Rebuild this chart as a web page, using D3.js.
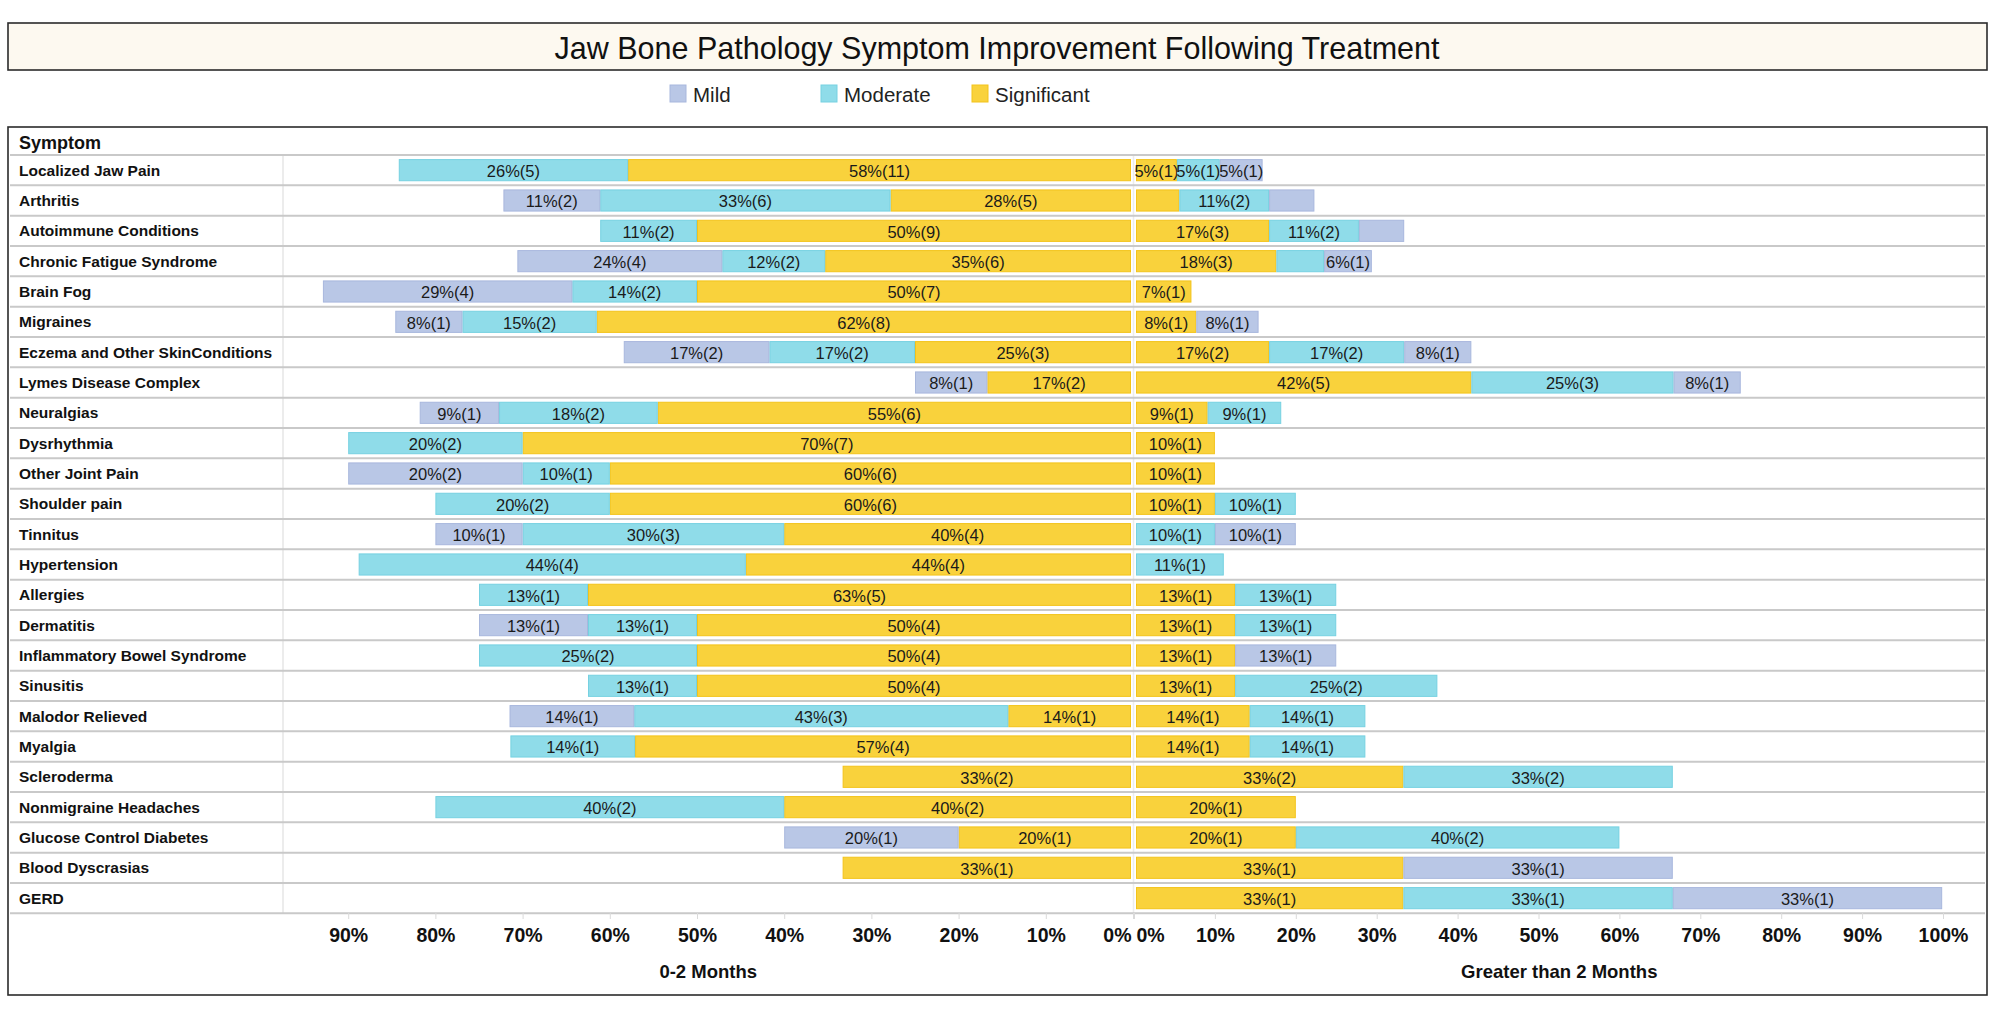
<!DOCTYPE html>
<html>
<head>
<meta charset="utf-8">
<script src="https://cdn.jsdelivr.net/npm/d3@7"></script>
<style>
  html, body { margin: 0; padding: 0; background: #ffffff; }
  svg { display: block; font-family: "Liberation Sans", Arial, sans-serif; }
</style>
</head>
<body>
<svg id="chart" width="2000" height="1014"></svg>
<script>
// ---------------- DATA ----------------
const title = "Jaw Bone Pathology Symptom Improvement Following Treatment";
const severities = ["Mild", "Moderate", "Significant"];
const stackOrder = ["Significant", "Moderate", "Mild"];
const periods = ["0-2 Months", "Greater than 2 Months"];
const rowHeader = "Symptom";

const categories = [
  "Localized Jaw Pain", "Arthritis", "Autoimmune Conditions", "Chronic Fatigue Syndrome",
  "Brain Fog", "Migraines", "Eczema and Other SkinConditions", "Lymes Disease Complex",
  "Neuralgias", "Dysrhythmia", "Other Joint Pain", "Shoulder pain", "Tinnitus",
  "Hypertension", "Allergies", "Dermatitis", "Inflammatory Bowel Syndrome", "Sinusitis",
  "Malodor Relieved", "Myalgia", "Scleroderma", "Nonmigraine Headaches",
  "Glucose Control Diabetes", "Blood Dyscrasias", "GERD"
];

// 0-2 Months (percent of patients, and patient counts)
const earlyMild        = [0, 11.1, 0, 23.5, 28.6, 7.7, 16.7, 8.3, 9.1, 0, 20, 0, 10, 0, 0, 12.5, 0, 0, 14.3, 0, 0, 0, 20, 0, 0];
const earlyMildN       = [0, 2, 0, 4, 4, 1, 2, 1, 1, 0, 2, 0, 1, 0, 0, 1, 0, 0, 1, 0, 0, 0, 1, 0, 0];
const earlyModerate    = [26.3, 33.3, 11.1, 11.8, 14.3, 15.4, 16.7, 0, 18.2, 20, 10, 20, 30, 44.4, 12.5, 12.5, 25, 12.5, 42.9, 14.3, 0, 40, 0, 0, 0];
const earlyModerateN   = [5, 6, 2, 2, 2, 2, 2, 0, 2, 2, 1, 2, 3, 4, 1, 1, 2, 1, 3, 1, 0, 2, 0, 0, 0];
const earlySignificant = [57.9, 27.8, 50, 35.3, 50, 61.5, 25, 16.7, 54.5, 70, 60, 60, 40, 44.4, 62.5, 50, 50, 50, 14.3, 57.1, 33.3, 40, 20, 33.3, 0];
const earlySignificantN= [11, 5, 9, 6, 7, 8, 3, 2, 6, 7, 6, 6, 4, 4, 5, 4, 4, 4, 1, 4, 2, 2, 1, 1, 0];

// Greater than 2 Months
const lateMild         = [5.3, 5.6, 5.6, 5.9, 0, 7.7, 8.3, 8.3, 0, 0, 0, 0, 10, 0, 0, 0, 12.5, 0, 0, 0, 0, 0, 0, 33.3, 33.3];
const lateMildN        = [1, 1, 1, 1, 0, 1, 1, 1, 0, 0, 0, 0, 1, 0, 0, 0, 1, 0, 0, 0, 0, 0, 0, 1, 1];
const lateModerate     = [5.3, 11.1, 11.1, 5.9, 0, 0, 16.7, 25, 9.1, 0, 0, 10, 10, 11.1, 12.5, 12.5, 0, 25, 14.3, 14.3, 33.3, 0, 40, 0, 33.3];
const lateModerateN    = [1, 2, 2, 1, 0, 0, 2, 3, 1, 0, 0, 1, 1, 1, 1, 1, 0, 2, 1, 1, 2, 0, 2, 0, 1];
const lateSignificant  = [5.3, 5.6, 16.7, 17.6, 7.1, 7.7, 16.7, 41.7, 9.1, 10, 10, 10, 0, 0, 12.5, 12.5, 12.5, 12.5, 14.3, 14.3, 33.3, 20, 20, 33.3, 33.3];
const lateSignificantN = [1, 1, 3, 3, 1, 1, 2, 5, 1, 1, 1, 1, 0, 0, 1, 1, 1, 1, 1, 1, 2, 1, 1, 1, 1];

// labels Tableau suppressed in the original
const hiddenLabels = [
  "late|Significant|Arthritis", "late|Mild|Arthritis",
  "late|Mild|Autoimmune Conditions", "late|Moderate|Chronic Fatigue Syndrome"
];

const tickValuesLeft  = [0, 0.1, 0.2, 0.3, 0.4, 0.5, 0.6, 0.7, 0.8, 0.9];
const tickValuesRight = [0, 0.1, 0.2, 0.3, 0.4, 0.5, 0.6, 0.7, 0.8, 0.9, 1.0];

// ---------------- STYLE ----------------
const fills   = { Mild: "#b9c7e6", Moderate: "#8fdce9", Significant: "#f9d23c" };
const strokes = { Mild: "#a8b7dd", Moderate: "#76d1e1", Significant: "#f3c31a" };

// ---------------- BUILD TABLES ----------------
function buildTable(mild, mod, sig, mildN, modN, sigN) {
  return categories.map((c, i) => ({
    symptom: c,
    Mild: mild[i] / 100, Moderate: mod[i] / 100, Significant: sig[i] / 100,
    n: { Mild: mildN[i], Moderate: modN[i], Significant: sigN[i] }
  }));
}
const earlyTable = buildTable(earlyMild, earlyModerate, earlySignificant, earlyMildN, earlyModerateN, earlySignificantN);
const lateTable  = buildTable(lateMild, lateModerate, lateSignificant, lateMildN, lateModerateN, lateSignificantN);

const stack = d3.stack().keys(stackOrder);
const earlyStack = stack(earlyTable);
const lateStack  = stack(lateTable);

// ---------------- LAYOUT ----------------
const svg = d3.select("#chart");

// title box
svg.append("rect").attr("x", 8).attr("y", 23).attr("width", 1979).attr("height", 47)
  .attr("fill", "#fdf9f0").attr("stroke", "#2b2b2b").attr("stroke-width", 1.6);
svg.append("text").attr("x", 997).attr("y", 48).attr("text-anchor", "middle")
  .attr("dominant-baseline", "central").attr("font-size", 30.5).attr("fill", "#111")
  .text(title);

// legend
const legend = svg.append("g");
const legendX = d3.scalePoint().domain(severities).range([670, 972]);
severities.forEach(s => {
  const g = legend.append("g").attr("transform", `translate(${legendX(s)},85)`);
  g.append("rect").attr("width", 16).attr("height", 17)
    .attr("fill", fills[s]).attr("stroke", strokes[s]).attr("stroke-width", 1);
  g.append("text").attr("x", 23).attr("y", 9).attr("dominant-baseline", "central")
    .attr("font-size", 20.5).attr("fill", "#222").text(s);
});

// main box
svg.append("rect").attr("x", 8).attr("y", 127).attr("width", 1979).attr("height", 868)
  .attr("fill", "#fff").attr("stroke", "#2b2b2b").attr("stroke-width", 1.6);

svg.append("text").attr("x", 19).attr("y", 143).attr("dominant-baseline", "central")
  .attr("font-size", 18).attr("font-weight", "bold").attr("fill", "#111").text(rowHeader);

const y = d3.scaleBand().domain(categories).range([155, 913.3]).paddingInner(0.27).paddingOuter(0.135);
const xL = d3.scaleLinear().domain([0, 1]).range([1133, 261]);
const xR = d3.scaleLinear().domain([0, 1]).range([1134, 1943]);

const labelColX = 283, panelSepX = 1133.5;

// vertical separators
svg.append("line").attr("x1", labelColX).attr("x2", labelColX).attr("y1", 155).attr("y2", 913)
  .attr("stroke", "#ececec").attr("stroke-width", 2);
svg.append("line").attr("x1", panelSepX).attr("x2", panelSepX).attr("y1", 155).attr("y2", 913)
  .attr("stroke", "#ececec").attr("stroke-width", 1.5);

// row separators
const step = y.step();
const sepY = d3.range(categories.length + 1).map(i => y.range()[0] + i * step);
svg.append("g").selectAll("line").data(sepY).join("line")
  .attr("x1", 10).attr("x2", 1985).attr("y1", d => d).attr("y2", d => d)
  .attr("stroke", "#c9c9c9").attr("stroke-width", 2);

// row labels
svg.append("g").selectAll("text").data(categories).join("text")
  .attr("x", 19).attr("y", d => y(d) + y.bandwidth() / 2)
  .attr("dominant-baseline", "central").attr("font-size", 15.5).attr("font-weight", "bold")
  .attr("fill", "#111").text(d => d);

// bars
function drawPanel(stacked, xs, periodKey) {
  const g = svg.append("g");
  const dir = Math.sign(xs(1) - xs(0));
  const zeroGap = 2;
  const x0 = d => xs(d[0]) + (d[0] === 0 ? dir * zeroGap : 0);
  const x1 = d => xs(d[1]);
  stacked.forEach(layer => {
    const key = layer.key;
    const segs = layer.filter(d => d[1] - d[0] > 0);
    g.append("g").selectAll("rect").data(segs).join("rect")
      .attr("x", d => Math.min(x0(d), x1(d)) + 0.5)
      .attr("width", d => Math.abs(x1(d) - x0(d)) - 1)
      .attr("y", d => y(d.data.symptom) + 0.5)
      .attr("height", y.bandwidth() - 1)
      .attr("fill", fills[key]).attr("stroke", strokes[key]).attr("stroke-width", 1);
    const labeled = segs.filter(d => !hiddenLabels.includes(`${periodKey}|${key}|${d.data.symptom}`));
    g.append("g").selectAll("text").data(labeled).join("text")
      .attr("x", d => (x0(d) + x1(d)) / 2)
      .attr("y", d => y(d.data.symptom) + y.bandwidth() / 2 + 1)
      .attr("text-anchor", "middle").attr("dominant-baseline", "central")
      .attr("font-size", 16.5).attr("fill", "#1a1a1a")
      .text(d => `${Math.round((d[1] - d[0]) * 100)}%(${d.data.n[key]})`);
  });
}
drawPanel(earlyStack, xL, "early");
drawPanel(lateStack, xR, "late");

// axes
const fmt = d3.format(".0%");
function drawAxis(xs, ticks, anchorZero) {
  const ax = svg.append("g").attr("transform", "translate(0,913)")
    .call(d3.axisBottom(xs).tickValues(ticks).tickFormat(fmt).tickSize(6).tickPadding(9));
  ax.select(".domain").remove();
  ax.selectAll(".tick line").attr("stroke", "#dadada");
  ax.selectAll(".tick text").attr("font-size", 19.5).attr("font-weight", "bold")
    .attr("fill", "#111").attr("font-family", "'Liberation Sans', Arial, sans-serif");
  ax.selectAll(".tick text").filter(d => d === 0).attr("text-anchor", anchorZero)
    .attr("dx", anchorZero === "end" ? -2 : 2);
  return ax;
}
drawAxis(xL, tickValuesLeft, "end");
drawAxis(xR, tickValuesRight, "start");

// axis titles
svg.append("text").attr("x", (labelColX + panelSepX) / 2).attr("y", 971)
  .attr("text-anchor", "middle").attr("dominant-baseline", "central")
  .attr("font-size", 18.5).attr("font-weight", "bold").attr("fill", "#111").text(periods[0]);
svg.append("text").attr("x", (panelSepX + 1985) / 2).attr("y", 971)
  .attr("text-anchor", "middle").attr("dominant-baseline", "central")
  .attr("font-size", 18.5).attr("font-weight", "bold").attr("fill", "#111").text(periods[1]);
</script>
</body>
</html>
